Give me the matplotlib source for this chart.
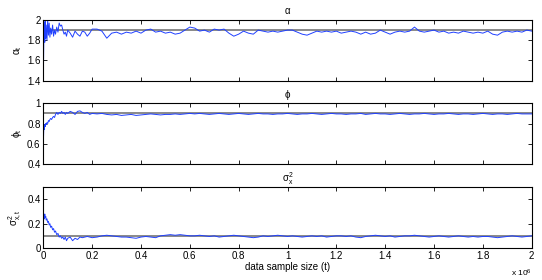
import numpy as np
import matplotlib
matplotlib.use("Agg")
import matplotlib.pyplot as plt

plt.rcParams['font.family'] = ['Liberation Sans', 'DejaVu Sans']
plt.rcParams['font.size'] = 7
plt.rcParams['mathtext.fontset'] = 'custom'
plt.rcParams['mathtext.rm'] = 'Liberation Sans'
plt.rcParams['mathtext.it'] = 'Liberation Sans'

# sample sizes (x 10^6): dense at start, regular grid afterwards
t_start = [0, 0.002, 0.004, 0.006, 0.008, 0.01, 0.012, 0.015, 0.018, 0.021,
           0.024, 0.027, 0.03, 0.034, 0.038, 0.042, 0.046, 0.05, 0.055, 0.06,
           0.065, 0.07, 0.075, 0.08, 0.085, 0.09, 0.095, 0.1, 0.11, 0.12,
           0.13, 0.14, 0.15, 0.16, 0.17, 0.18, 0.19, 0.20]
t_rest = np.linspace(0.22, 2.0, 90)
t = np.concatenate([t_start, t_rest])

alpha_est = [1.40, 1.80, 1.98, 1.78, 2.00, 1.82, 1.95, 1.80, 2.00, 1.85,
             1.97, 1.83, 1.92, 1.86, 1.95, 1.84, 1.90, 1.86, 1.93, 1.88,
             1.97, 1.94, 1.95, 1.90, 1.86, 1.88, 1.84, 1.90, 1.87, 1.83,
             1.89, 1.86, 1.84, 1.89, 1.88, 1.84, 1.87, 1.91,
             1.91, 1.89, 1.82, 1.87, 1.88, 1.86, 1.88, 1.87, 1.89, 1.87,
             1.90, 1.91, 1.88, 1.89, 1.87, 1.88, 1.86, 1.87, 1.90, 1.93,
             1.92, 1.89, 1.90, 1.88, 1.91, 1.90, 1.91, 1.87, 1.84, 1.86,
             1.89, 1.87, 1.86, 1.90, 1.89, 1.88, 1.89, 1.88, 1.89, 1.90,
             1.90, 1.88, 1.86, 1.85, 1.87, 1.89, 1.88, 1.89, 1.88, 1.89,
             1.87, 1.88, 1.89, 1.88, 1.86, 1.88, 1.86, 1.87, 1.90, 1.88,
             1.86, 1.88, 1.89, 1.88, 1.89, 1.93, 1.89, 1.88, 1.89, 1.90,
             1.88, 1.89, 1.87, 1.88, 1.87, 1.89, 1.88, 1.87, 1.88, 1.87,
             1.89, 1.86, 1.85, 1.88, 1.89, 1.88, 1.89, 1.88, 1.90, 1.89]

phi_est = [0.60, 0.76, 0.74, 0.79, 0.77, 0.80, 0.79, 0.81, 0.80, 0.83,
           0.82, 0.84, 0.85, 0.84, 0.86, 0.87, 0.86, 0.89, 0.91, 0.89,
           0.91, 0.90, 0.92, 0.90, 0.91, 0.89, 0.91, 0.90, 0.92, 0.91,
           0.89, 0.92, 0.925, 0.91, 0.90, 0.91, 0.89, 0.90,
           0.895, 0.90, 0.89, 0.885, 0.89, 0.88, 0.885, 0.89, 0.88, 0.885,
           0.89, 0.895, 0.89, 0.885, 0.89, 0.89, 0.895, 0.89, 0.895, 0.90,
           0.895, 0.90, 0.895, 0.89, 0.895, 0.90, 0.895, 0.89, 0.895, 0.90,
           0.895, 0.89, 0.895, 0.90, 0.895, 0.895, 0.89, 0.895, 0.895, 0.90,
           0.895, 0.89, 0.895, 0.895, 0.90, 0.895, 0.89, 0.895, 0.90, 0.895,
           0.895, 0.89, 0.895, 0.895, 0.90, 0.89, 0.895, 0.90, 0.895, 0.895,
           0.89, 0.895, 0.90, 0.895, 0.89, 0.895, 0.895, 0.90, 0.895, 0.89,
           0.895, 0.895, 0.90, 0.895, 0.89, 0.895, 0.895, 0.89, 0.895, 0.90,
           0.895, 0.89, 0.895, 0.895, 0.89, 0.895, 0.90, 0.895, 0.895, 0.895]

sigma_est = [0.20, 0.26, 0.24, 0.28, 0.25, 0.26, 0.23, 0.24, 0.21, 0.22,
             0.19, 0.20, 0.17, 0.18, 0.15, 0.16, 0.13, 0.14, 0.11, 0.12,
             0.09, 0.10, 0.08, 0.09, 0.07, 0.09, 0.06, 0.08, 0.09, 0.06,
             0.08, 0.07, 0.09, 0.085, 0.09, 0.095, 0.09, 0.085,
             0.09, 0.10, 0.105, 0.10, 0.095, 0.09, 0.09, 0.085, 0.08, 0.09,
             0.095, 0.09, 0.085, 0.10, 0.105, 0.11, 0.105, 0.11, 0.105, 0.10,
             0.10, 0.105, 0.10, 0.095, 0.10, 0.09, 0.095, 0.10, 0.105, 0.10,
             0.095, 0.09, 0.085, 0.09, 0.10, 0.095, 0.10, 0.105, 0.10, 0.095,
             0.10, 0.095, 0.09, 0.095, 0.10, 0.095, 0.10, 0.09, 0.095, 0.10,
             0.10, 0.095, 0.10, 0.09, 0.085, 0.095, 0.10, 0.105, 0.10, 0.095,
             0.10, 0.09, 0.095, 0.10, 0.10, 0.105, 0.10, 0.095, 0.09, 0.095,
             0.10, 0.095, 0.09, 0.095, 0.10, 0.095, 0.09, 0.095, 0.09, 0.095,
             0.095, 0.09, 0.085, 0.09, 0.095, 0.10, 0.095, 0.09, 0.095, 0.10]

true_vals = [1.9, 0.9, 0.1]
titles = [r'$\alpha$', r'$\phi$', r'$\sigma^2_x$']
ylabels = [r'$\alpha_t$', r'$\phi_t$', r'$\sigma^2_{x,t}$']
ylims = [(1.4, 2.0), (0.4, 1.0), (0.0, 0.5)]
yticks = [[1.4, 1.6, 1.8, 2.0], [0.4, 0.6, 0.8, 1.0], [0, 0.2, 0.4]]
ytlabels = [['1.4', '1.6', '1.8', '2'], ['0.4', '0.6', '0.8', '1'], ['0', '0.2', '0.4']]
series = [alpha_est, phi_est, sigma_est]

fig = plt.figure(figsize=(5.42, 2.80), dpi=100)
bottoms = [0.7118, 0.4143, 0.1143]
xticks = [0, 0.2, 0.4, 0.6, 0.8, 1.0, 1.2, 1.4, 1.6, 1.8, 2.0]
xtlabels = ['0', '0.2', '0.4', '0.6', '0.8', '1', '1.2', '1.4', '1.6', '1.8', '2']

for i in range(3):
    ax = fig.add_axes([0.0799, bottoms[i], 0.9011, 0.2168])
    ax.axhline(true_vals[i], color='#808080', lw=1.3, zorder=1)
    ax.plot(t, series[i], color='#2040ff', lw=0.7, zorder=2)
    ax.set_xlim(0, 2)
    ax.set_ylim(*ylims[i])
    ax.set_yticks(yticks[i])
    ax.set_yticklabels(ytlabels[i])
    ax.set_xticks(xticks)
    if i == 2:
        ax.set_xticklabels(xtlabels)
        ax.set_xlabel('data sample size (t)', labelpad=1)
        ax.text(1.0, -0.42, r'x 10$^6$', transform=ax.transAxes,
                ha='right', va='center', fontsize=6)
    else:
        ax.set_xticklabels([])
    ax.tick_params(direction='in', top=True, right=True, length=3,
                   width=0.6, pad=2, labelsize=7)
    for s in ax.spines.values():
        s.set_linewidth(0.8)
    ax.set_title(titles[i], fontsize=7, pad=4)
    ax.set_ylabel(ylabels[i], fontsize=7, labelpad=2)

fig.savefig('out.png', dpi=100)
